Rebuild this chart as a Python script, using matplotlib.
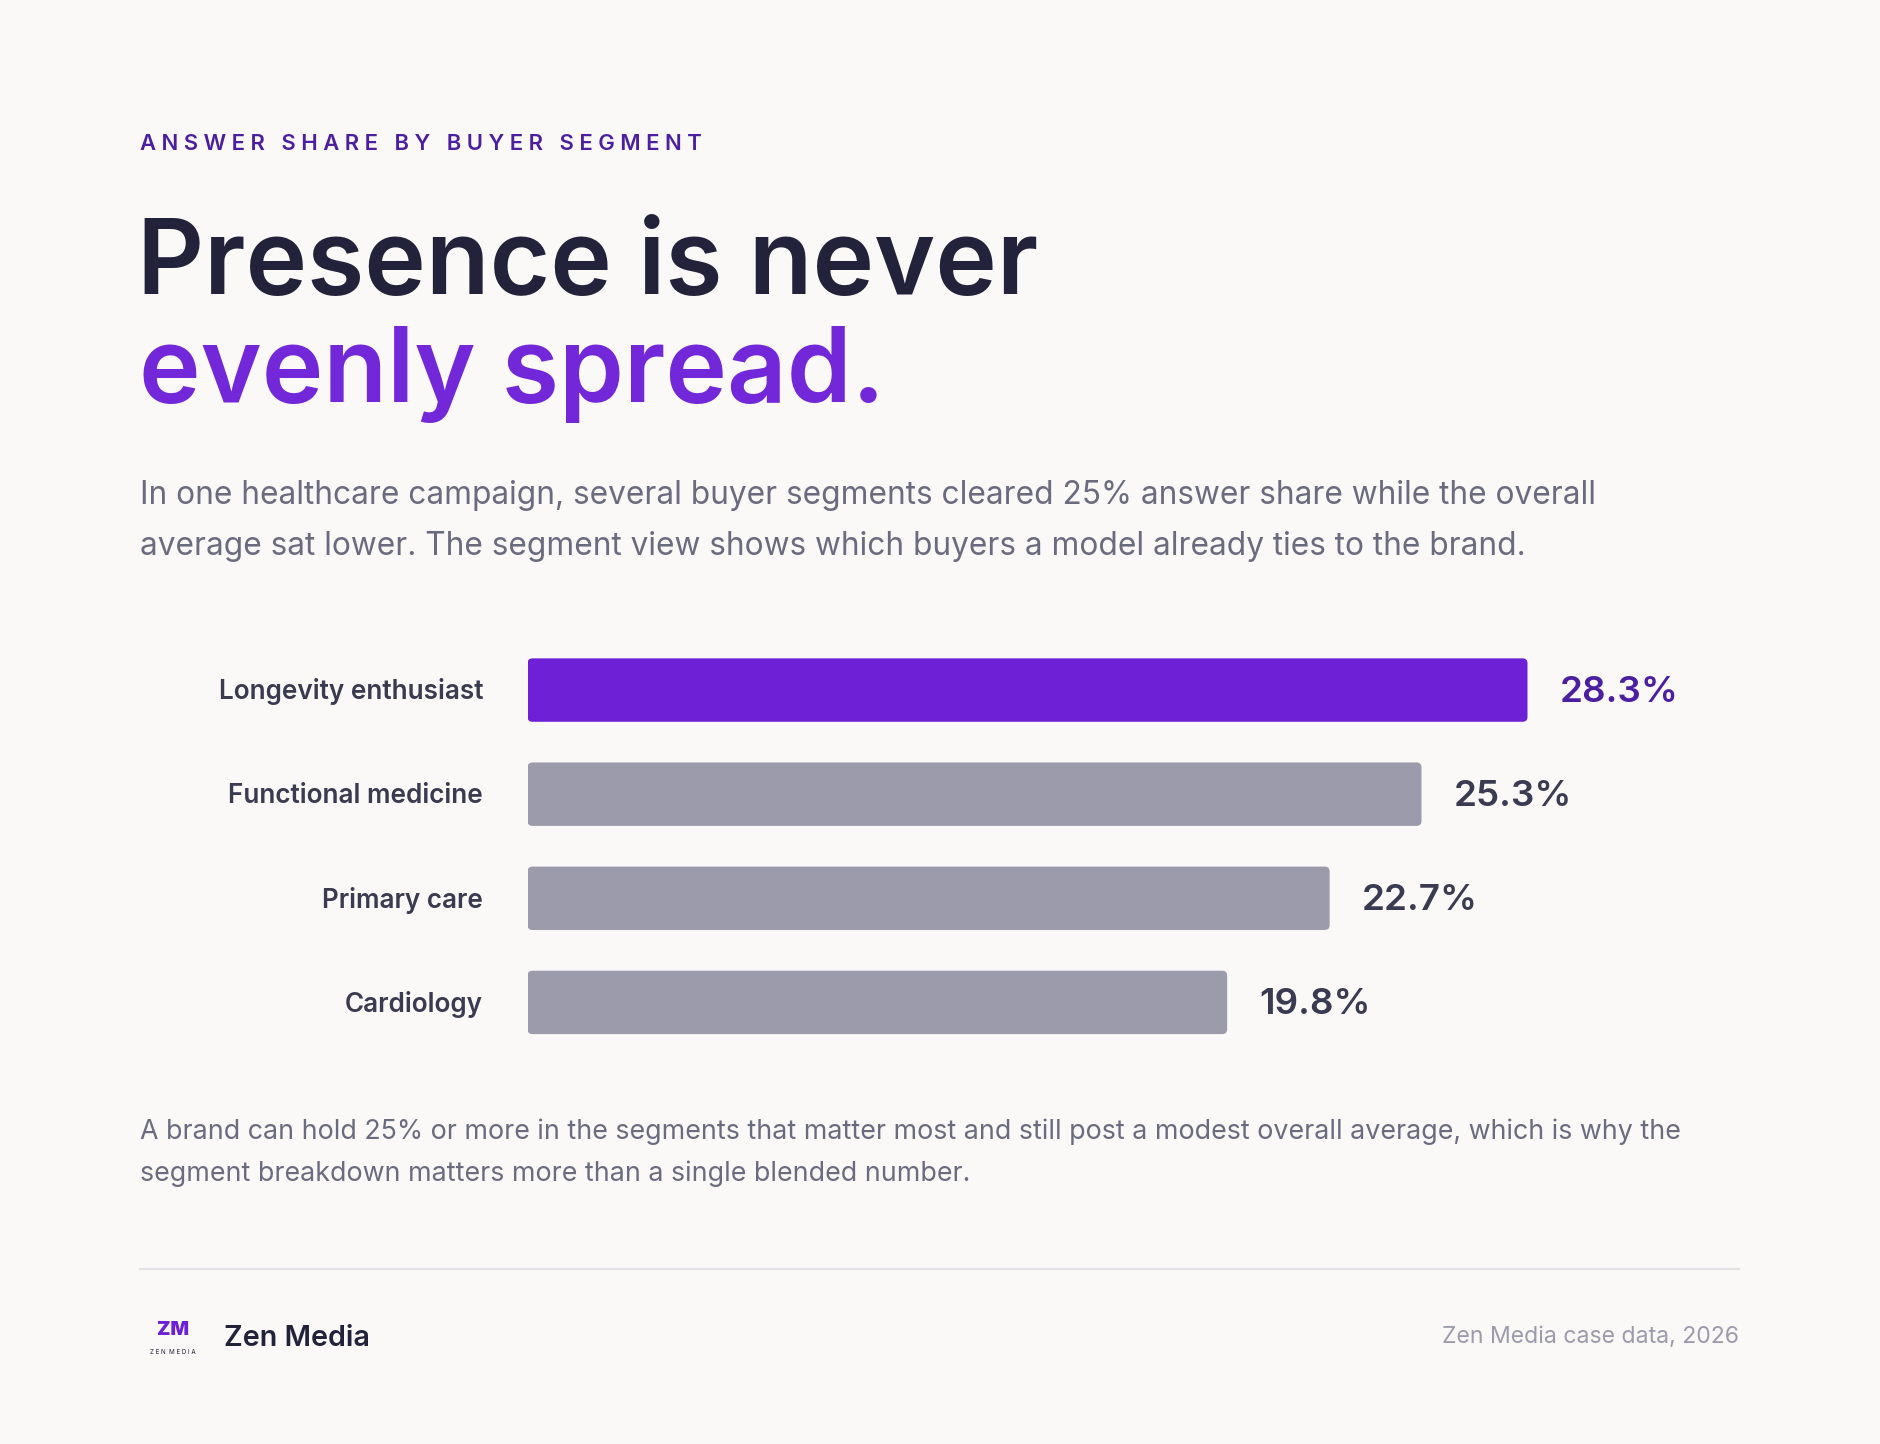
import matplotlib
matplotlib.use("Agg")
import matplotlib.pyplot as plt
from matplotlib.patches import FancyBboxPatch

categories = ["Longevity enthusiast", "Functional medicine", "Primary care", "Cardiology"]
values = [28.3, 25.3, 22.7, 19.8]
value_labels = ["28.3%", "25.3%", "22.7%", "19.8%"]

plt.rcParams['font.family'] = ['Inter', 'DejaVu Sans']
BG = "#FAF9F7"
W, H = 1568, 1203
fig = plt.figure(figsize=(18.8, 14.44), dpi=100, facecolor=BG)

def fx(x): return x / W
def fy(y): return 1 - y / H

fig.text(fx(117), fy(120), "A N S W E R   S H A R E   B Y   B U Y E R   S E G M E N T", fontsize=15.9,
         color="#4B1FA0", fontweight="semibold", va="center")
fig.text(fx(114), fy(222), "Presence is never", fontsize=75, color="#22223A",
         fontweight="semibold", va="center")
fig.text(fx(116), fy(312), "evenly spread.", fontsize=75, color="#7227D9",
         fontweight="semibold", va="center")
fig.text(fx(117), fy(413), "In one healthcare campaign, several buyer segments cleared 25% answer share while the overall",
         fontsize=22.8, color="#6B6B80", va="center")
fig.text(fx(117), fy(455), "average sat lower. The segment view shows which buyers a model already ties to the brand.",
         fontsize=22.8, color="#6B6B80", va="center")

ax_l, ax_r, ax_t, ax_b = 440, 1450, 540, 870
ax = fig.add_axes([fx(ax_l), fy(ax_b), fx(ax_r - ax_l), (ax_b - ax_t) / H])
ax.set_facecolor(BG)
pxu = 29.47
xmax = (ax_r - ax_l) / pxu
ax.set_xlim(0, xmax)
ax.set_ylim(3 + 35 / 87, -35 / 87)
ax.axis("off")
bh = 53 / 87
asp = (1 / 87) / (1 / pxu)
for i, (c, v, lab) in enumerate(zip(categories, values, value_labels)):
    col = "#6D20D6" if i == 0 else "#9C9BAB"
    p = FancyBboxPatch((0, i - bh / 2), v, bh, boxstyle="round,pad=0,rounding_size=0.14",
                       mutation_aspect=asp, facecolor=col, edgecolor="none")
    ax.add_patch(p)
    ax.text(v + 27 / pxu, i + 0.02, lab, fontsize=26.5, fontweight="semibold",
            color="#4B1FA0" if i == 0 else "#3A3A50", va="center", ha="left")
    fig.text(fx(403), fy(576 + 87 * i), c, fontsize=18.8, fontweight="semibold",
             color="#3A3A50", ha="right", va="center")

fig.text(fx(117), fy(943), "A brand can hold 25% or more in the segments that matter most and still post a modest overall average, which is why the",
         fontsize=19.3, color="#6B6B80", va="center")
fig.text(fx(117), fy(978), "segment breakdown matters more than a single blended number.",
         fontsize=19.3, color="#6B6B80", va="center")

fig.add_artist(plt.Line2D([fx(117), fx(1450)], [fy(1057), fy(1057)], color="#E2E0E4", lw=1.5))
fig.text(fx(144), fy(1108), "ZM", fontsize=14, fontweight="black", color="#6D20D6", ha="center", va="center")
fig.text(fx(144), fy(1126), "Z E N  M E D I A", fontsize=4.5, color="#22223A", ha="center", va="center")
fig.text(fx(187), fy(1115), "Zen Media", fontsize=20.7, fontweight="semibold", color="#22223A", va="center")
fig.text(fx(1450), fy(1114), "Zen Media case data, 2026", fontsize=16.6, color="#9C9BAB", ha="right", va="center")

fig.savefig("out.png", dpi=100, facecolor=BG)
